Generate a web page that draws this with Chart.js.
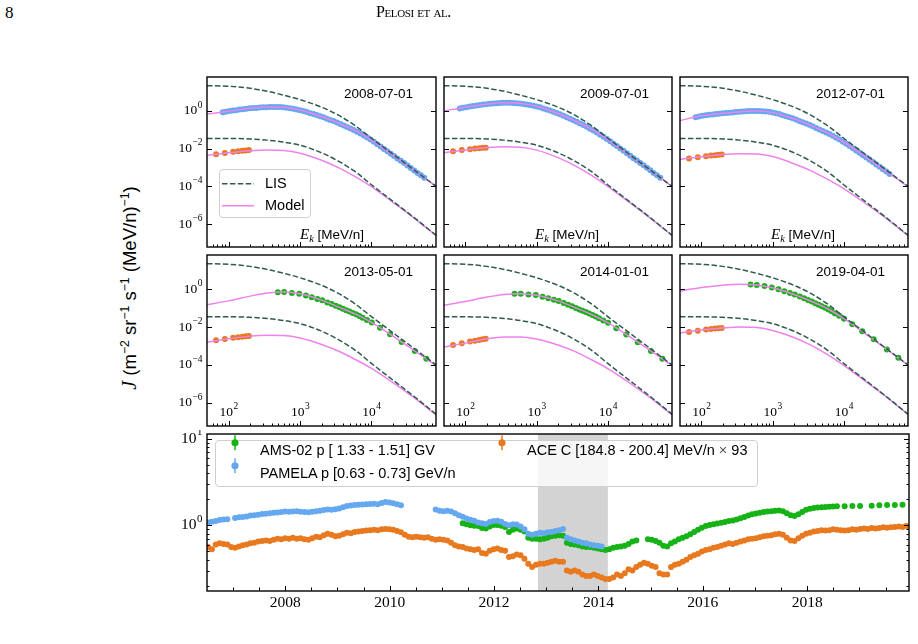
<!DOCTYPE html>
<html>
<head>
<meta charset="utf-8">
<script src="https://cdn.jsdelivr.net/npm/chart.js@4.4.1/dist/chart.umd.min.js"></script>
<style>
  html, body { margin: 0; padding: 0; background: #fff; }
  #page { position: relative; width: 918px; height: 644px; overflow: hidden; font-family: 'Liberation Sans', Arial, sans-serif; color: #000; }
  canvas { position: absolute; }
  .txt { position: absolute; white-space: nowrap; line-height: 1; }
  .math { font-family: 'Liberation Serif', serif; font-style: italic; }
  sup { font-size: 0.66em; vertical-align: 0.55em; line-height: 0; }
  sub { font-size: 0.7em; vertical-align: -0.3em; line-height: 0; }
  .legend { position: absolute; border: 1px solid #cfcfcf; border-radius: 4px; background: rgba(255,255,255,0.8); }
  .entry { position: absolute; white-space: nowrap; line-height: 1; font-size: 14.5px; }
  .entry svg { position: absolute; }
</style>
</head>
<body>
<div id="page"></div>
<script>
// ---------- spectra (log10 of J) ----------
const curveE = [50, 100, 200, 350, 600, 1000, 2000, 3500, 6000, 1e4, 2e4, 4e4, 8e4];
const lisP = [1.34, 1.31, 1.20, 1.04, 0.83, 0.60, 0.20, -0.24, -0.80, -1.45, -2.30, -3.15, -4.00];
const lisC = [-1.46, -1.46, -1.49, -1.55, -1.66, -1.82, -2.22, -2.68, -3.24, -3.92, -4.80, -5.68, -6.60];

const modelP1 = [-0.17, -0.02, 0.14, 0.21, 0.20, 0.05, -0.30, -0.65, -1.05, -1.55, -2.35, -3.17, -4.01];
const modelC1 = [-2.37, -2.22, -2.11, -2.07, -2.10, -2.25, -2.62, -3.02, -3.50, -4.02, -4.85, -5.70, -6.61];
const modelP2 = [0.00, 0.20, 0.36, 0.43, 0.40, 0.25, -0.14, -0.54, -0.98, -1.52, -2.34, -3.17, -4.01];
const modelC2 = [-2.22, -2.07, -1.95, -1.90, -1.93, -2.08, -2.48, -2.92, -3.44, -4.00, -4.84, -5.70, -6.61];
const modelP3 = [-0.51, -0.26, -0.13, -0.04, 0.00, -0.08, -0.42, -0.78, -1.18, -1.65, -2.42, -3.22, -4.02];
const modelC3 = [-2.57, -2.43, -2.31, -2.27, -2.28, -2.42, -2.80, -3.18, -3.64, -4.12, -4.90, -5.72, -6.62];
const modelP4 = [-0.82, -0.62, -0.37, -0.20, -0.15, -0.25, -0.58, -0.95, -1.32, -1.75, -2.48, -3.25, -4.03];
const modelC4 = [-2.80, -2.62, -2.48, -2.43, -2.45, -2.58, -2.92, -3.28, -3.72, -4.18, -4.93, -5.74, -6.63];
const modelP5 = [-0.85, -0.65, -0.42, -0.28, -0.24, -0.32, -0.62, -0.98, -1.35, -1.77, -2.49, -3.25, -4.03];
const modelC5 = [-3.05, -2.85, -2.62, -2.52, -2.52, -2.63, -2.95, -3.30, -3.74, -4.19, -4.93, -5.74, -6.63];
const modelP6 = [-0.10, 0.08, 0.21, 0.26, 0.22, 0.07, -0.28, -0.64, -1.05, -1.55, -2.35, -3.17, -4.01];
const modelC6 = [-2.32, -2.16, -2.05, -2.00, -2.03, -2.18, -2.55, -2.97, -3.47, -4.02, -4.85, -5.70, -6.61];

const pamelaE = [83, 92, 103, 115, 128, 143, 159, 177, 197, 220, 245, 273, 304, 339, 378, 421,
  469, 522, 582, 649, 723, 805, 897, 1000, 1114, 1242, 1384, 1542, 1718, 1914, 2133, 2377,
  2649, 2951, 3289, 3664, 4083, 4550, 5070, 5649, 6295, 7015, 7816, 8710, 9705, 10810, 12050,
  13430, 14960, 16670, 18580, 20700, 23070, 25700, 28640, 31920, 35560, 39630, 44160, 49200, 54830];
const pamela1 = [-0.07, -0.04, -0.01, 0.02, 0.04, 0.07, 0.09, 0.12, 0.14, 0.15, 0.16, 0.18, 0.19, 0.20, 0.21, 0.21,
  0.21, 0.21, 0.20, 0.17, 0.14, 0.11, 0.08, 0.04, -0.01, -0.06, -0.12, -0.17, -0.22, -0.28, -0.34, -0.41,
  -0.48, -0.54, -0.61, -0.69, -0.77, -0.85, -0.93, -1.01, -1.10, -1.20, -1.31, -1.41, -1.52, -1.64, -1.77,
  -1.89, -2.02, -2.14, -2.27, -2.39, -2.52, -2.64, -2.77, -2.90, -3.03, -3.16, -3.29, -3.42, -3.55];
const pamela2 = [0.13, 0.17, 0.20, 0.23, 0.26, 0.29, 0.31, 0.34, 0.36, 0.38, 0.39, 0.41, 0.42, 0.43, 0.43, 0.43,
  0.42, 0.41, 0.40, 0.37, 0.34, 0.31, 0.28, 0.24, 0.19, 0.13, 0.07, 0.02, -0.04, -0.11, -0.18, -0.26,
  -0.34, -0.41, -0.49, -0.58, -0.67, -0.75, -0.84, -0.94, -1.04, -1.15, -1.26, -1.37, -1.49, -1.61, -1.74,
  -1.86, -1.99, -2.12, -2.25, -2.38, -2.51, -2.63, -2.76, -2.89, -3.02, -3.15, -3.29, -3.42, -3.55];
const pamela3 = [-0.33, -0.29, -0.26, -0.23, -0.21, -0.19, -0.17, -0.15, -0.13, -0.11, -0.10, -0.08, -0.06, -0.04, -0.03, -0.02,
  -0.01, 0.00, 0.00, -0.01, -0.02, -0.03, -0.05, -0.08, -0.12, -0.17, -0.23, -0.28, -0.33, -0.39, -0.46, -0.53,
  -0.60, -0.67, -0.74, -0.82, -0.91, -0.99, -1.07, -1.14, -1.22, -1.32, -1.42, -1.52, -1.63, -1.74, -1.86,
  -1.98, -2.10, -2.22, -2.35, -2.47, -2.59, -2.71, -2.84, -2.96, -3.09, -3.22, -3.35, null, null];

const amsE = [490, 600, 770, 975, 1210, 1460, 1750, 2050, 2410, 2770, 3150, 3570, 3980, 4420, 4920, 5470,
  6090, 6770, 7530, 8650, 10100, 13200, 18200, 26400, 40400, 58600];
const ams4 = [-0.16, -0.15, -0.20, -0.24, -0.34, -0.43, -0.52, -0.59, -0.70, -0.79, -0.88, -0.96, -1.04, -1.11, -1.18, -1.26,
  -1.33, -1.42, -1.51, -1.63, -1.76, -2.04, -2.38, -2.79, -3.26, -3.68];
const ams5 = [-0.25, -0.24, -0.28, -0.31, -0.40, -0.48, -0.56, -0.63, -0.73, -0.82, -0.91, -0.99, -1.07, -1.14, -1.21, -1.29,
  -1.36, -1.45, -1.54, -1.65, -1.78, -2.06, -2.39, -2.80, -3.26, -3.68];
const ams6 = [0.24, 0.22, 0.16, 0.08, -0.01, -0.11, -0.20, -0.29, -0.39, -0.48, -0.57, -0.65, -0.74, -0.82, -0.90, -0.98,
  -1.07, -1.17, -1.28, -1.41, -1.56, -1.86, -2.22, -2.65, -3.18, -3.62];

const aceE = [67, 89, 116, 136, 156, 174, 193];
const ace1 = [-2.30, -2.23, -2.17, -2.14, -2.12, -2.10, -2.08];
const ace2 = [-2.14, -2.08, -2.03, -2.00, -1.98, -1.96, -1.95];
const ace3 = [-2.53, -2.46, -2.40, -2.37, -2.35, -2.33, -2.31];
const ace4 = [-2.70, -2.63, -2.57, -2.54, -2.51, -2.49, -2.48];
const ace5 = [-2.95, -2.86, -2.77, -2.72, -2.68, -2.65, -2.62];
const ace6 = [-2.26, -2.19, -2.13, -2.10, -2.08, -2.06, -2.05];

const dateLabels = ['2008-07-01', '2009-07-01', '2012-07-01', '2013-05-01', '2014-01-01', '2019-04-01'];

// ---------- time series, one value per Bartels rotation from tsStart ----------
const tsStart = 2006.52;
const tsStep = 27 / 365.25;
const aceTS = [0.56, 0.53, 0.60, 0.62, 0.61, 0.60, 0.56, 0.55, 0.57, 0.59, 0.60, 0.62, 0.63, 0.65, 0.66, 0.67,
  0.66, 0.68, 0.70, 0.69, 0.71, 0.70, 0.72, 0.70, 0.71, 0.69, 0.68, 0.71, 0.74, 0.73, 0.77, 0.80,
  0.78, 0.75, 0.76, 0.79, 0.82, 0.81, 0.84, 0.85, 0.86, 0.87, 0.88, 0.89, 0.88, 0.90, 0.91, 0.90,
  0.89, 0.86, 0.83, 0.78, 0.74, 0.73, 0.74, 0.73, 0.72, 0.73, 0.70, 0.68, 0.69, 0.68, 0.67, 0.63,
  0.59, 0.57, 0.56, 0.54, 0.53, 0.52, 0.53, 0.48, 0.47, 0.51, 0.53, 0.54, 0.52, 0.51, 0.43, 0.44,
  0.46, 0.45, 0.41, 0.36, 0.33, 0.35, 0.36, 0.36, 0.37, 0.38, 0.39, 0.38, 0.38, 0.30, 0.29, 0.30,
  0.29, 0.27, 0.26, 0.26, 0.27, 0.26, 0.25, 0.24, 0.24, 0.25, 0.27, 0.26, 0.28, 0.31, 0.30, 0.33,
  0.35, 0.37, 0.36, 0.34, 0.33, 0.28, 0.27, 0.27, 0.33, 0.35, 0.36, 0.38, 0.40, 0.43, 0.45, 0.47,
  0.50, 0.52, 0.53, 0.55, 0.56, 0.58, 0.60, 0.62, 0.61, 0.63, 0.65, 0.67, 0.69, 0.70, 0.71, 0.73,
  0.75, 0.76, 0.77, 0.79, 0.80, 0.78, 0.72, 0.67, 0.66, 0.71, 0.76, 0.80, 0.82, 0.85, 0.86, 0.88,
  0.87, 0.88, 0.90, 0.89, 0.88, 0.87, 0.88, 0.90, 0.89, 0.91, 0.92, 0.91, 0.93, 0.92, 0.93, 0.95,
  0.94, 0.95, 0.96, 0.97, 0.96, 0.98];
const pamelaTS = [1.08, 1.10, 1.12, 1.15, 1.17, 1.18, null, 1.22, 1.24, 1.25, 1.27, 1.30, 1.31, 1.33, 1.35, 1.36,
  1.38, 1.40, 1.41, 1.43, 1.45, 1.44, 1.45, 1.46, 1.44, 1.43, 1.42, 1.44, 1.46, 1.48, 1.51, 1.53,
  1.52, 1.54, 1.57, 1.62, 1.67, 1.70, 1.72, 1.73, 1.74, 1.75, 1.77, 1.78, 1.76, 1.82, 1.86, 1.84,
  1.80, 1.76, 1.71, null, null, null, null, null, null, null, null, 1.53, 1.48, 1.46, 1.48, 1.45,
  1.38, 1.31, 1.26, 1.20, 1.16, 1.13, 1.08, 1.06, 1.04, 1.09, 1.12, 1.13, 1.10, 1.04, 1.00, 1.03,
  1.02, 0.97, 0.90, 0.80, 0.78, 0.80, 0.82, 0.81, 0.83, 0.84, 0.86, 0.88, 0.91, 0.72, 0.69, 0.67,
  0.65, 0.63, 0.62, 0.60, 0.59, 0.58, 0.57];
const amsTS = [null, null, null, null, null, null, null, null, null, null, null, null, null, null, null, null,
  null, null, null, null, null, null, null, null, null, null, null, null, null, null, null, null,
  null, null, null, null, null, null, null, null, null, null, null, null, null, null, null, null,
  null, null, null, null, null, null, null, null, null, null, null, null, null, null, null, null,
  null, null, 1.06, 1.03, 1.00, 0.99, 0.98, 0.93, 0.92, 0.97, 1.01, 1.01, 0.99, 0.96, 0.84, 0.89,
  0.92, 0.89, 0.85, 0.72, 0.70, 0.70, 0.69, 0.70, 0.72, 0.75, 0.76, 0.77, 0.76, 0.63, 0.61, 0.60,
  0.59, 0.57, 0.56, 0.56, 0.55, 0.54, 0.53, 0.52, 0.53, 0.55, 0.56, 0.57, 0.58, 0.61, 0.65, 0.67,
  null, null, 0.69, 0.68, 0.66, 0.63, 0.58, 0.57, 0.62, 0.65, 0.69, 0.72, 0.75, 0.79, 0.84, 0.89,
  0.94, 0.98, 1.01, 1.03, 1.05, 1.07, 1.09, 1.12, 1.14, 1.17, 1.21, 1.25, 1.30, 1.34, 1.37, 1.40,
  1.43, 1.45, 1.46, 1.48, 1.49, 1.46, 1.38, 1.31, 1.28, 1.34, 1.43, 1.52, 1.56, 1.59, 1.61, 1.62,
  1.63, 1.64, 1.65, 1.66, null, 1.66, null, 1.67, null, 1.68, null, null, 1.69, null, 1.71, null,
  1.72, null, 1.72, null, 1.73, null];
const shadeYears = [2012.84, 2014.18];

// ---------- axis ticks ----------
const specXMajor = [100, 1000, 10000];
const specYMajor = [1e-6, 1e-4, 1e-2, 1];
const tsYearLabels = [2008, 2010, 2012, 2014, 2016, 2018];

const BLUE = '#64a9f0', GREEN = '#16b316', ORANGE = '#e8791f';
const LIS_COLOR = '#2f5a50', MODEL_COLOR = '#ee82ee';

const page = document.getElementById('page');
const cols = [[207, 438], [442, 674], [678, 910]];
const rows = [[75, 249], [253, 428]];

function makeCanvas(l, t, r, b, pad) {
  const c = document.createElement('canvas');
  const w = r - l + pad.l + pad.r, h = b - t + pad.t + pad.b;
  c.width = w; c.height = h;
  c.style.left = (l - pad.l) + 'px'; c.style.top = (t - pad.t) + 'px';
  c.style.width = w + 'px'; c.style.height = h + 'px';
  page.appendChild(c);
  return c;
}

function addHTML(html, css) {
  const d = document.createElement('div');
  d.className = 'txt';
  d.innerHTML = html;
  Object.assign(d.style, css);
  page.appendChild(d);
  return d;
}

function powLabel(ctx, base, exp, x, y, align, size) {
  const fb = size + 'px "Liberation Serif"', fe = (size * 0.7) + 'px "Liberation Serif"';
  ctx.font = fb; const wb = ctx.measureText(base).width;
  ctx.font = fe; const we = ctx.measureText(exp).width;
  const x0 = align === 'right' ? x - wb - we : x - (wb + we) / 2;
  ctx.textAlign = 'left'; ctx.textBaseline = 'middle';
  ctx.font = fb; ctx.fillText(base, x0, y);
  ctx.font = fe; ctx.fillText(exp, x0 + wb + 0.5, y - size * 0.42);
}

const frame = {
  id: 'frame',
  beforeDatasetsDraw(chart, args, o) {
    if (!o.band) return;
    const { ctx, chartArea: a, scales: { x } } = chart;
    const x0 = x.getPixelForValue(o.band[0]), x1 = x.getPixelForValue(o.band[1]);
    ctx.save();
    ctx.fillStyle = '#d3d3d3';
    ctx.fillRect(x0, a.top, x1 - x0, a.bottom - a.top);
    ctx.restore();
  },
  afterDraw(chart, args, o) {
    const { ctx, chartArea: a, scales: { x, y } } = chart;
    ctx.save();
    ctx.strokeStyle = '#000';
    ctx.lineWidth = 1;
    ctx.beginPath();
    (o.xTicks || []).forEach(([v, len]) => {
      const p = Math.round(x.getPixelForValue(v)) + 0.5;
      if (p < a.left + 1 || p > a.right - 1) return;
      ctx.moveTo(p, a.bottom); ctx.lineTo(p, a.bottom - len);
    });
    (o.yTicks || []).forEach(([v, len]) => {
      const p = Math.round(y.getPixelForValue(v)) + 0.5;
      if (p < a.top + 1 || p > a.bottom - 1) return;
      ctx.moveTo(a.left, p); ctx.lineTo(a.left + len, p);
      ctx.moveTo(a.right, p); ctx.lineTo(a.right - len, p);
    });
    ctx.stroke();
    ctx.lineWidth = 1.4;
    ctx.strokeRect(a.left, a.top, a.right - a.left, a.bottom - a.top);
    ctx.fillStyle = '#000';
    (o.yLabels || []).forEach(([v, exp]) => powLabel(ctx, '10', exp, a.left - 5, y.getPixelForValue(v), 'right', o.labelSize));
    (o.xPowLabels || []).forEach(([v, exp]) => powLabel(ctx, '10', exp, x.getPixelForValue(v), a.bottom - 14, 'center', o.labelSize));
    (o.xLabels || []).forEach((v) => {
      ctx.font = o.labelSize + 'px "Liberation Serif"';
      ctx.textAlign = 'center'; ctx.textBaseline = 'middle';
      ctx.fillText(String(v), x.getPixelForValue(v), a.bottom + 12);
    });
    ctx.restore();
  }
};
Chart.register(frame);

const toLog = (arr) => arr.map((v) => (v === null ? null : Math.pow(10, v)));

function curve(logs, color, dashed) {
  const ys = toLog(logs);
  return {
    data: curveE.map((e, i) => ({ x: e, y: ys[i] })),
    showLine: true, borderColor: color, borderWidth: 1.5,
    borderDash: dashed ? [5.5, 2.4] : [], pointRadius: 0,
    cubicInterpolationMode: 'monotone', order: dashed ? 0 : 1
  };
}

function points(es, logs, color, r) {
  const ys = toLog(logs);
  return {
    data: es.map((e, i) => ({ x: e, y: ys[i] === undefined ? null : ys[i] })),
    showLine: false, pointRadius: r, pointBackgroundColor: color,
    pointBorderWidth: 0, order: 2
  };
}

// minor/major tick lists for the spectra
const specXTicks = [];
[10, 100, 1000, 10000].forEach((d) => {
  for (let k = 1; k <= 9; k++) specXTicks.push([k * d, k === 1 ? 5 : 2.5]);
});
const specYTicks = specYMajor.map((v) => [v, 5]);

const panels = [
  { col: 0, row: 0, mP: modelP1, mC: modelC1, dE: pamelaE, dJ: pamela1, c: BLUE, r: 3, ace: ace1 },
  { col: 1, row: 0, mP: modelP2, mC: modelC2, dE: pamelaE, dJ: pamela2, c: BLUE, r: 3, ace: ace2 },
  { col: 2, row: 0, mP: modelP3, mC: modelC3, dE: pamelaE, dJ: pamela3, c: BLUE, r: 3, ace: ace3 },
  { col: 0, row: 1, mP: modelP4, mC: modelC4, dE: amsE, dJ: ams4, c: GREEN, r: 3, ace: ace4 },
  { col: 1, row: 1, mP: modelP5, mC: modelC5, dE: amsE, dJ: ams5, c: GREEN, r: 3, ace: ace5 },
  { col: 2, row: 1, mP: modelP6, mC: modelC6, dE: amsE, dJ: ams6, c: GREEN, r: 3, ace: ace6 }
];

panels.forEach((p, k) => {
  const [l, r] = cols[p.col];
  const [t, b] = rows[p.row];
  const pad = { l: p.col === 0 ? 40 : 2, r: 2, t: 2, b: 2 };
  const cv = makeCanvas(l, t, r, b, pad);
  new Chart(cv, {
    type: 'scatter',
    data: {
      datasets: [
        curve(lisP, LIS_COLOR, true), curve(lisC, LIS_COLOR, true),
        curve(p.mP, MODEL_COLOR, false), curve(p.mC, MODEL_COLOR, false),
        points(p.dE, p.dJ, p.c, p.r), points(aceE, p.ace, ORANGE, 3)
      ]
    },
    options: {
      responsive: false, animation: false, events: [],
      layout: { padding: { left: pad.l, right: pad.r, top: pad.t, bottom: pad.b } },
      scales: {
        x: { type: 'logarithmic', min: 50, max: 80000, display: false },
        y: { type: 'logarithmic', min: Math.pow(10, -7.2), max: Math.pow(10, 1.8), display: false }
      },
      plugins: {
        legend: { display: false }, tooltip: { enabled: false },
        frame: {
          xTicks: specXTicks, yTicks: specYTicks, labelSize: 13.5,
          yLabels: p.col === 0 ? [[1, '0'], [1e-2, '\u22122'], [1e-4, '\u22124'], [1e-6, '\u22126']] : [],
          xPowLabels: p.row === 1 ? [[100, '2'], [1000, '3'], [10000, '4']] : []
        }
      }
    }
  });
  addHTML(dateLabels[k], { right: (918 - (r - 25)) + 'px', top: (t + 19) + 'px', transform: 'translateY(-50%)', fontSize: '13.5px' });
  if (p.row === 0) {
    addHTML('<span class="math" style="font-size:15px">E<sub>k</sub></span> [MeV/n]',
      { left: (l + 93) + 'px', top: (b - 15) + 'px', transform: 'translateY(-50%)', fontSize: '13.5px' });
  }
});

// ---------- time series panel ----------
const tsYTicks = [];
[0.1, 1].forEach((d) => {
  for (let k = 1; k <= 9; k++) tsYTicks.push([k * d, k === 1 ? 5 : 2.5]);
});
tsYTicks.push([10, 5]);
const tsXTicks = [];
for (let yr = 2006.5; yr <= 2020; yr += 0.5) tsXTicks.push([yr, yr % 2 === 0 ? 5 : 3.5]);

const tsData = (arr) => arr.map((v, i) => ({ x: tsStart + i * tsStep, y: v }));
const tsPad = { l: 40, r: 3, t: 3, b: 26 };
const tsCanvas = makeCanvas(207, 433, 910, 591, tsPad);
new Chart(tsCanvas, {
  type: 'scatter',
  data: {
    datasets: [
      { data: tsData(pamelaTS), pointRadius: 3, pointBackgroundColor: BLUE, pointBorderWidth: 0, order: 0 },
      { data: tsData(amsTS), pointRadius: 3, pointBackgroundColor: GREEN, pointBorderWidth: 0, order: 1 },
      { data: tsData(aceTS), pointRadius: 3, pointBackgroundColor: ORANGE, pointBorderWidth: 0, order: 2 }
    ]
  },
  options: {
    responsive: false, animation: false, events: [],
    layout: { padding: { left: tsPad.l, right: tsPad.r, top: tsPad.t, bottom: tsPad.b } },
    scales: {
      x: { type: 'linear', min: 2006.5, max: 2019.95, display: false },
      y: { type: 'logarithmic', min: 0.174, max: 11.4, display: false }
    },
    plugins: {
      legend: { display: false }, tooltip: { enabled: false },
      frame: {
        band: shadeYears, xTicks: tsXTicks, yTicks: tsYTicks, labelSize: 15.5,
        yLabels: [[10, '1'], [1, '0']], xLabels: tsYearLabels
      }
    }
  }
});

// ---------- legends ----------
const marker = (color) => '<svg width="10" height="16" style="left:-30px;top:-8px">' +
  '<line x1="5" y1="0.5" x2="5" y2="15.5" stroke="' + color + '" stroke-width="1.5"/>' +
  '<circle cx="5" cy="8" r="3.6" fill="' + color + '"/></svg>';

const tsLegend = document.createElement('div');
tsLegend.className = 'legend';
Object.assign(tsLegend.style, { left: '215px', top: '440px', width: '541px', height: '45px' });
page.appendChild(tsLegend);
[
  ['AMS-02 p [ 1.33 - 1.51] GV', GREEN, 260, 450],
  ['PAMELA p [0.63 - 0.73] GeV/n', BLUE, 260, 473],
  ['ACE C [184.8 - 200.4] MeV/n <span style="color:#555">\u00d7</span> 93', ORANGE, 527, 450]
].forEach(([label, color, x, y]) => {
  const e = document.createElement('div');
  e.className = 'entry';
  e.innerHTML = marker(color) + label;
  Object.assign(e.style, { left: x + 'px', top: y + 'px', transform: 'translateY(-50%)' });
  page.appendChild(e);
});

const specLegend = document.createElement('div');
specLegend.className = 'legend';
Object.assign(specLegend.style, { left: '219px', top: '169px', width: '90px', height: '47px' });
page.appendChild(specLegend);
[
  ['LIS', LIS_COLOR, '5.5,2.4', 183],
  ['Model', MODEL_COLOR, '', 205]
].forEach(([label, color, dash, y]) => {
  const e = document.createElement('div');
  e.className = 'entry';
  e.innerHTML = '<svg width="32" height="4" style="left:-43px;top:6px"><line x1="0" y1="2" x2="32" y2="2" stroke="' +
    color + '" stroke-width="1.5" stroke-dasharray="' + dash + '"/></svg>' + label;
  Object.assign(e.style, { left: '265px', top: y + 'px', transform: 'translateY(-50%)' });
  page.appendChild(e);
});

// ---------- page text ----------
addHTML('<span class="math" style="font-size:20px">J</span> (m<sup>\u22122</sup> sr<sup>\u22121</sup> s<sup>\u22121</sup> (MeV/n)<sup>\u22121</sup>)',
  { left: '129px', top: '288px', transform: 'translate(-50%,-50%) rotate(-90deg)', fontSize: '18.5px' });
addHTML('8', { left: '5px', top: '4px', fontFamily: '"Liberation Serif", serif', fontSize: '17px' });
addHTML('Pelosi et al.', { left: '376px', top: '4px', fontFamily: '"Liberation Serif", serif', fontSize: '16px', fontVariant: 'small-caps', letterSpacing: '-0.4px' });
</script>
</body>
</html>
